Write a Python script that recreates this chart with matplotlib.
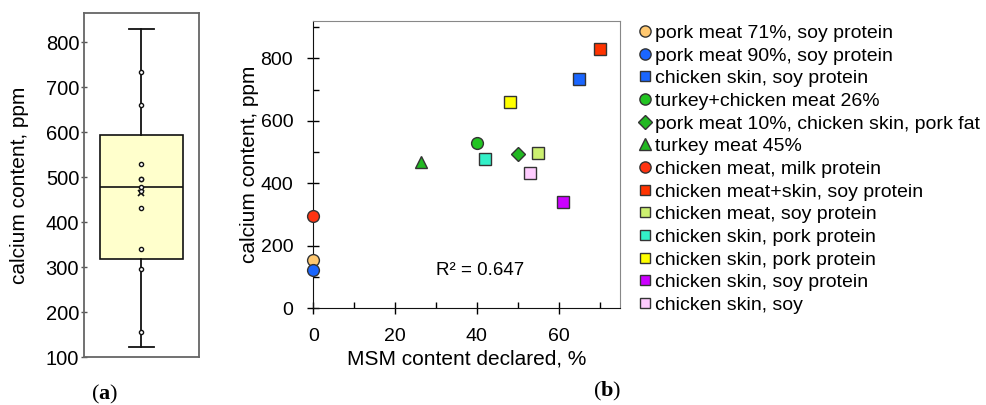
import numpy as np
import matplotlib
matplotlib.use('Agg')
import matplotlib.pyplot as plt
from matplotlib.lines import Line2D

plt.rcParams['font.family'] = ['Liberation Sans', 'DejaVu Sans']
plt.rcParams['mathtext.fontset'] = 'custom'
plt.rcParams['mathtext.rm'] = 'Liberation Serif'
plt.rcParams['mathtext.bf'] = 'Liberation Serif:bold'

# samples: label, MSM declared (%), calcium (ppm)
labels = [
    'pork meat 71%, soy protein',
    'pork meat 90%, soy protein',
    'chicken skin, soy protein',
    'turkey+chicken meat 26%',
    'pork meat 10%, chicken skin, pork fat',
    'turkey meat 45%',
    'chicken meat, milk protein',
    'chicken meat+skin, soy protein',
    'chicken meat, soy protein',
    'chicken skin, pork protein',
    'chicken skin, pork protein',
    'chicken skin, soy protein',
    'chicken skin, soy',
]
msm = [0, 0, 65, 40, 50, 26.3, 0, 70, 55, 42, 48, 61, 53]
calcium = [155, 123, 735, 530, 495, 470, 295, 830, 497, 478, 660, 340, 432]
markers = ['o', 'o', 's', 'o', 'D', '^', 'o', 's', 's', 's', 's', 's', 's']
colours = ['#ffc870', '#1a66ff', '#1a66ff', '#22c422', '#22b822', '#22b822',
           '#ff3311', '#ff3300', '#ccf070', '#33f0c8', '#ffff00', '#cc00ff', '#ffccff']
sizes = [8.5, 8.5, 8, 8.5, 7, 9, 8.5, 8, 8, 8, 8, 8, 8]
r2_text = 'R² = 0.647'

fig = plt.figure(figsize=(9.86, 4.05), dpi=100)

# ---- (a) box plot ----
ax1 = fig.add_axes([0.0852, 0.1185, 0.1166, 0.849])
vals = np.array(calcium, dtype=float)
q1, med, q3 = np.percentile(vals, [25, 50, 75], method='weibull')
stats = [dict(med=med, q1=q1, q3=q3, whislo=vals.min(), whishi=vals.max(),
              mean=vals.mean(), fliers=[])]
ax1.bxp(stats, positions=[1], widths=0.73, capwidths=0.22, showmeans=True,
        patch_artist=True,
        boxprops=dict(facecolor='#ffffcc', edgecolor='#111111', linewidth=1.2),
        medianprops=dict(color='#111111', linewidth=1.2),
        whiskerprops=dict(color='#111111', linewidth=1.3),
        capprops=dict(color='#111111', linewidth=1.3),
        meanprops=dict(marker='x', markeredgecolor='#111111', markersize=5,
                       markeredgewidth=1.2))
# inner points (whisker ends are not marked)
inner = vals[(vals > vals.min()) & (vals < vals.max())]
ax1.plot(np.ones(len(inner)), inner, 'o', ms=3, mfc='white', mec='#111111',
         mew=1.0, zorder=5)
ax1.set_xlim(0.5, 1.5)
ax1.set_ylim(100, 865)
ax1.set_xticks([])
ax1.set_yticks(range(100, 801, 100))
ax1.tick_params(axis='y', direction='inout', length=5, width=1, color='#555555',
                labelsize=14.5, pad=1)
for s in ax1.spines.values():
    s.set_color('#666666')
    s.set_linewidth(1.3)
ax1.set_ylabel('calcium content, ppm', fontsize=15, labelpad=12)

# ---- (b) scatter ----
ax2 = fig.add_axes([0.3178, 0.2388, 0.311, 0.7094])
handles = []
for i in range(len(labels)):
    ax2.plot(msm[i], calcium[i], marker=markers[i], ms=sizes[i], color=colours[i],
             mec='#333333', mew=1.0, linestyle='none', zorder=5, clip_on=False)
    handles.append(Line2D([], [], marker=markers[i], ms=sizes[i] * 0.95,
                          color=colours[i], mec='#333333', mew=1.0,
                          linestyle='none', label=labels[i]))
ax2.text(40.7, 122, r2_text, fontsize=13.5, ha='center', va='center')
ax2.set_xlim(0, 75)
ax2.set_ylim(0, 920)
ax2.set_xticks([0, 20, 40, 60])
ax2.set_xticks([10, 30, 50, 70], minor=True)
ax2.set_yticks(range(0, 801, 200))
ax2.set_yticks(range(100, 901, 200), minor=True)
ax2.tick_params(which='major', direction='inout', length=9, width=1,
                labelsize=14, pad=10)
ax2.tick_params(which='minor', direction='in', length=4.5, width=1)
for side in ('top', 'right'):
    ax2.spines[side].set_color('#888888')
for side in ('left', 'bottom'):
    ax2.spines[side].set_color('#111111')
ax2.set_xlabel('MSM content declared, %', fontsize=15, labelpad=3)
ax2.set_ylabel('calcium content, ppm', fontsize=15, labelpad=1)

fig.legend(handles=handles, loc='upper left', bbox_to_anchor=(0.647, 0.940),
           frameon=False, fontsize=14, handlelength=0.7, handletextpad=0.2,
           labelspacing=0.26, borderpad=0, borderaxespad=0)

# panel letters
fig.text(0.106, 0.013, '($\\mathbf{a}$)', fontsize=16, ha='center',
         family='Liberation Serif')
fig.text(0.616, 0.02, '($\\mathbf{b}$)', fontsize=16, ha='center',
         family='Liberation Serif')

fig.savefig('out.png', dpi=100)
